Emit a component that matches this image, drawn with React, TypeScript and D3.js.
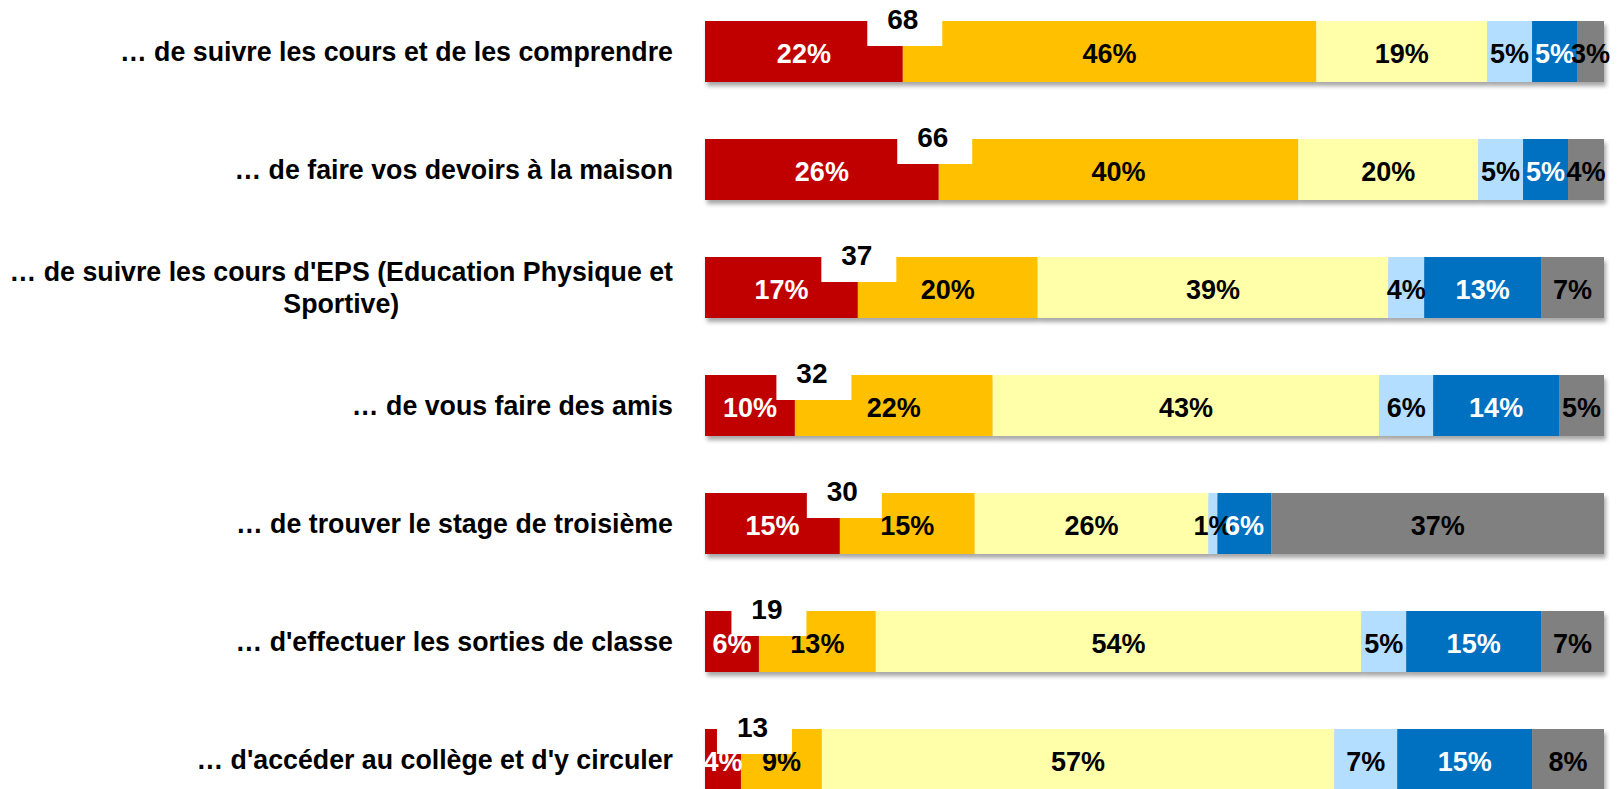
import React, { useEffect, useRef } from "react";
import * as d3 from "d3";

const categories = [
  "… de suivre les cours et de les comprendre",
  "… de faire vos devoirs à la maison",
  "… de suivre les cours d'EPS (Education Physique et|Sportive)",
  "… de vous faire des amis",
  "… de trouver le stage de troisième",
  "… d'effectuer les sorties de classe",
  "… d'accéder au collège et d'y circuler",
];

const seriesKeys = ["s1", "s2", "s3", "s4", "s5", "s6"];
const s1Values = [22, 26, 17, 10, 15, 6, 4];
const s2Values = [46, 40, 20, 22, 15, 13, 9];
const s3Values = [19, 20, 39, 43, 26, 54, 57];
const s4Values = [5, 5, 4, 6, 1, 5, 7];
const s5Values = [5, 5, 13, 14, 6, 15, 15];
const s6Values = [3, 4, 7, 5, 37, 7, 8];
const totals = [68, 66, 37, 32, 30, 19, 13];

const seriesColors = ["#C00000", "#FFC000", "#FFFFAA", "#B4DEFF", "#0070C0", "#808080"];
const labelColors = ["#FFFFFF", "#000000", "#000000", "#000000", "#FFFFFF", "#000000"];
// manual nudges of the total labels (as placed in the original)
const totalLabelDx = [2, -4, 1, 19, 4.5, 10, 13.5];

const W = 1617;
const H = 789;
const FONT = "'Liberation Sans', Arial, Helvetica, sans-serif";

export default function App() {
  const ref = useRef<SVGSVGElement>(null);

  useEffect(() => {
    const svg = d3.select(ref.current);
    svg.selectAll("*").remove();

    const allSeries = [s1Values, s2Values, s3Values, s4Values, s5Values, s6Values];
    const rows = categories.map((c, i) => {
      const r: any = { cat: c, idx: i };
      seriesKeys.forEach((k, j) => (r[k] = allSeries[j][i]));
      return r;
    });

    const x = d3.scaleLinear().domain([0, 100]).range([705, 1604]);
    const y = d3
      .scaleBand()
      .domain(categories)
      .range([21 - 28.5, 21 - 28.5 + 118 * 7])
      .paddingInner(57 / 118)
      .paddingOuter(28.5 / 118);

    const defs = svg.append("defs");
    const f = defs
      .append("filter")
      .attr("id", "shadow")
      .attr("x", "-5%")
      .attr("y", "-20%")
      .attr("width", "110%")
      .attr("height", "150%");
    f.append("feDropShadow")
      .attr("dx", 2)
      .attr("dy", 4)
      .attr("stdDeviation", 2)
      .attr("flood-color", "#000")
      .attr("flood-opacity", 0.35);

    const stack = d3.stack<any>().keys(seriesKeys);
    const stacked = stack(rows);

    const barG = svg.append("g");
    rows.forEach((r, i) => {
      const g = barG.append("g").attr("filter", "url(#shadow)");
      stacked.forEach((s, j) => {
        const d = s[i];
        g.append("rect")
          .attr("x", x(d[0]))
          .attr("y", y(r.cat)!)
          .attr("width", x(d[1]) - x(d[0]))
          .attr("height", y.bandwidth())
          .attr("fill", seriesColors[j]);
      });
    });

    const lblG = svg.append("g").attr("font-family", FONT).attr("font-weight", "bold").attr("font-size", 27);
    stacked.forEach((s, j) => {
      s.forEach((d, i) => {
        const r = rows[i];
        lblG
          .append("text")
          .attr("x", (x(d[0]) + x(d[1])) / 2)
          .attr("y", y(r.cat)! + 42)
          .attr("text-anchor", "middle")
          .attr("fill", labelColors[j])
          .text(`${d[1] - d[0]}%`);
      });
    });

    const totG = svg.append("g").attr("font-family", FONT).attr("font-weight", "bold").attr("font-size", 28);
    rows.forEach((r, i) => {
      const cx = x(stacked[1][i][0]) + totalLabelDx[i];
      const top = y(r.cat)!;
      totG
        .append("rect")
        .attr("x", cx - 37.5)
        .attr("y", top - 30)
        .attr("width", 75)
        .attr("height", 55)
        .attr("fill", "#FFFFFF");
      totG
        .append("text")
        .attr("x", cx - 2)
        .attr("y", top + 8)
        .attr("text-anchor", "middle")
        .attr("fill", "#000")
        .text(totals[i]);
    });

    const catG = svg.append("g").attr("font-family", FONT).attr("font-weight", "bold").attr("font-size", 26.75);
    rows.forEach((r) => {
      const lines = r.cat.split("|");
      const cy = y(r.cat)! + y.bandwidth() / 2;
      if (lines.length === 1) {
        catG
          .append("text")
          .attr("x", 673)
          .attr("y", cy + 9)
          .attr("text-anchor", "end")
          .attr("fill", "#000")
          .text(lines[0]);
      } else {
        const t1 = catG
          .append("text")
          .attr("x", 673)
          .attr("y", cy - 16 + 9)
          .attr("text-anchor", "end")
          .attr("fill", "#000")
          .text(lines[0]);
        const w1 = (t1.node() as SVGTextElement).getComputedTextLength();
        catG
          .append("text")
          .attr("x", 673 - w1 / 2)
          .attr("y", cy + 16 + 9)
          .attr("text-anchor", "middle")
          .attr("fill", "#000")
          .text(lines[1]);
      }
    });
  }, []);

  return (
    <svg
      ref={ref}
      width={W}
      height={H}
      style={{ position: "absolute", left: 0, top: 0, background: "#fff" }}
    />
  );
}
